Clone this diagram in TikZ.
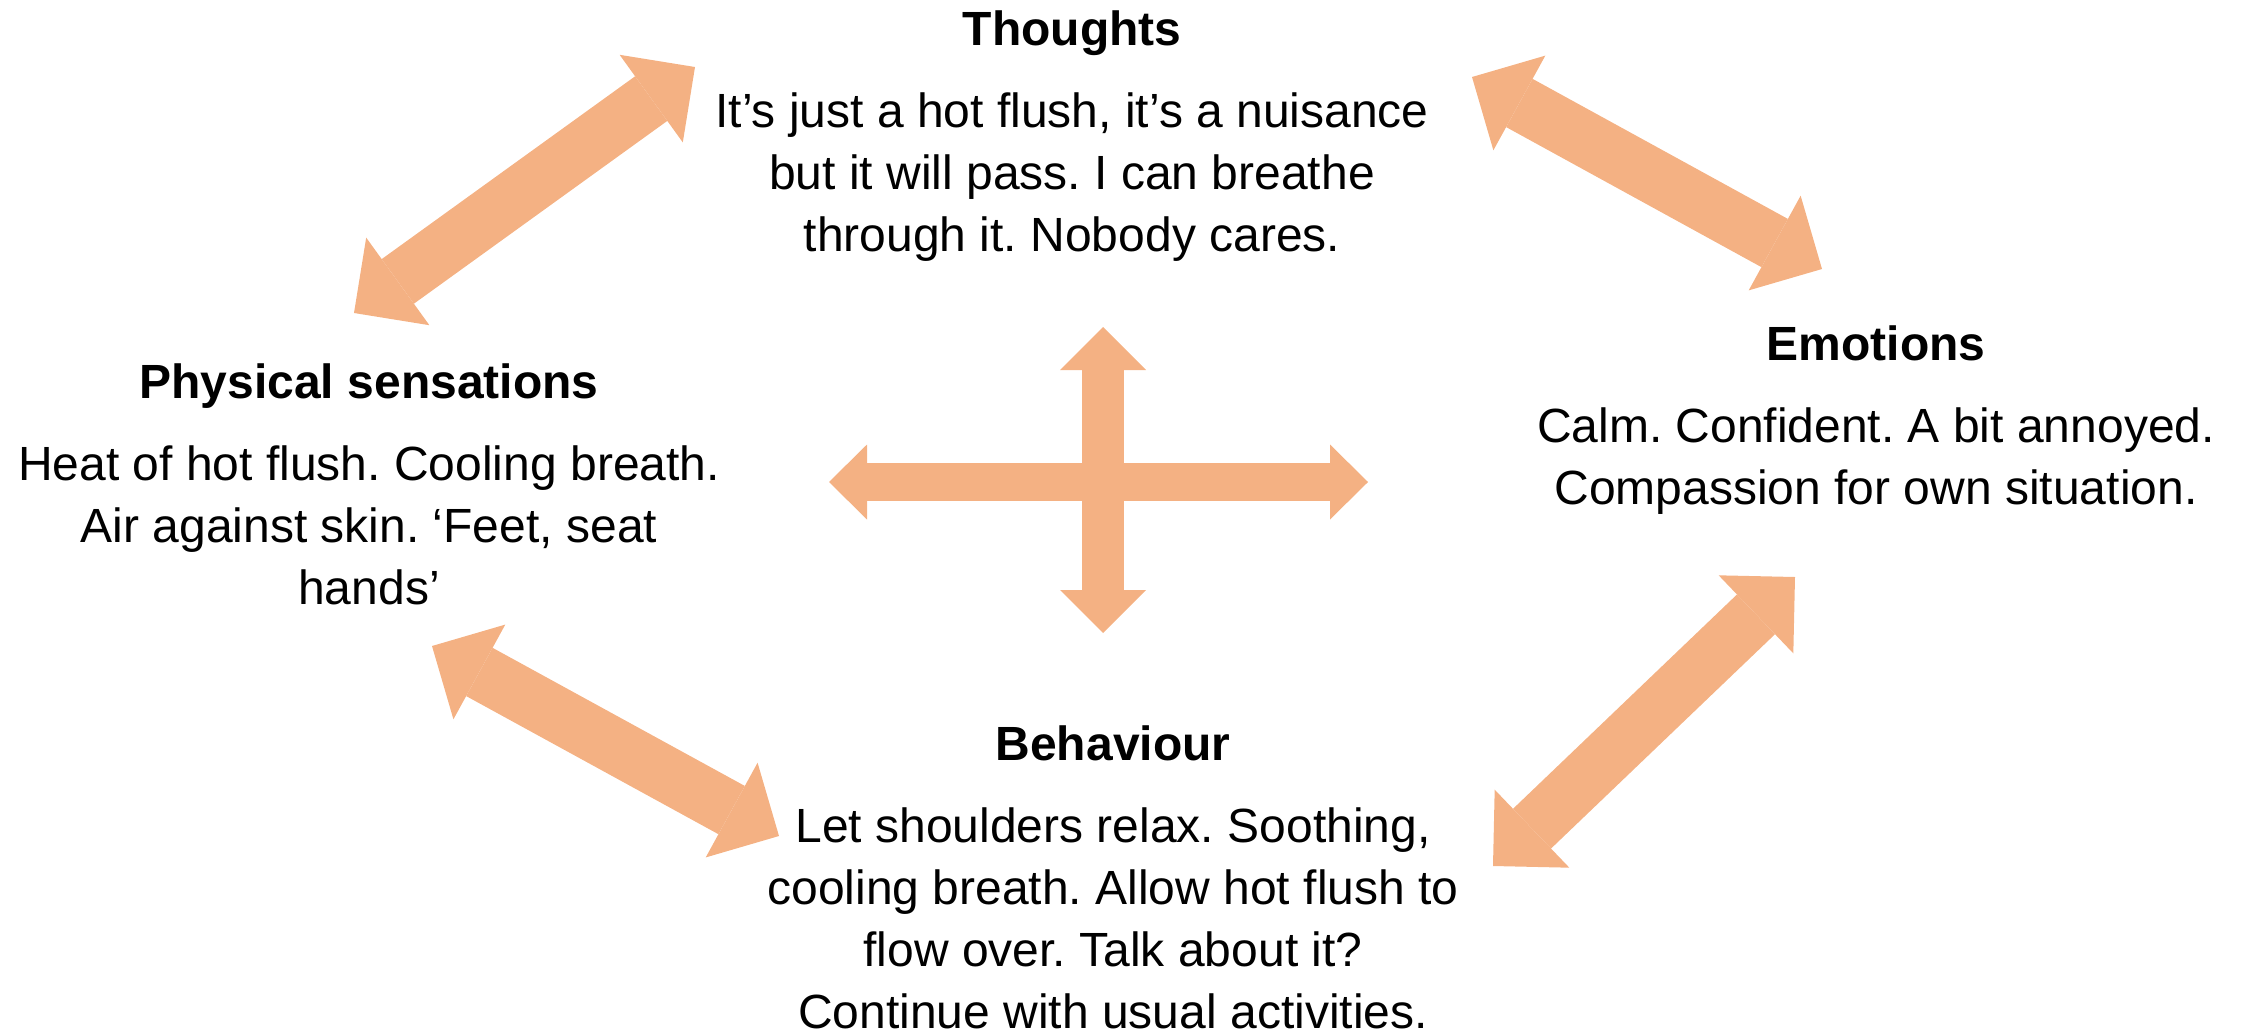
\documentclass[tikz,border=0pt]{standalone}
\usepackage{fontspec}
\setmainfont{Liberation Sans}
\usetikzlibrary{arrows.meta}
\definecolor{arrowfill}{HTML}{F4B183}
\frenchspacing
\begin{document}
\begin{tikzpicture}[x=1pt,y=-1pt,
  lbl/.style={align=center, font=\fontsize{48pt}{62pt}\selectfont\frenchspacing, inner sep=0pt, anchor=base},
  diagarrow/.style={draw=arrowfill, line width=55pt,
    {Triangle[width=108pt,length=54pt,line width=0pt]}-{Triangle[width=108pt,length=54pt,line width=0pt]}},
  vertarrow/.style={draw=arrowfill, line width=42pt,
    {Triangle[width=86pt,length=43pt,line width=0pt]}-{Triangle[width=86pt,length=43pt,line width=0pt]}},
  horzarrow/.style={draw=arrowfill, line width=38pt,
    {Triangle[width=75pt,length=38pt,line width=0pt]}-{Triangle[width=75pt,length=38pt,line width=0pt]}},
]
\useasboundingbox (0,0) rectangle (2244,1034);

% anchor base = baseline of the last line
\node[lbl] (thoughts) at (1072,251) {\textbf{Thoughts}\\[20pt]It’s just a hot flush, it’s a nuisance\\but it will pass. I can breathe\\through it. Nobody cares.};
\node[lbl] (physical) at (369,604) {\textbf{Physical sensations}\\[20pt]Heat of hot flush. Cooling breath.\\Air against skin. ‘Feet, seat\\hands’};
\node[lbl] (emotions) at (1876,504) {\textbf{Emotions}\\[20pt]Calm. Confident. A bit annoyed.\\Compassion for own situation.};
\node[lbl] (behaviour) at (1113,1028) {\textbf{Behaviour}\\[20pt]Let shoulders relax. Soothing,\\cooling breath. Allow hot flush to\\flow over. Talk about it?\\Continue with usual activities.};

\coordinate (a1s) at (354,313);
\coordinate (a1e) at (695,67);
\coordinate (a2s) at (1472,77);
\coordinate (a2e) at (1822,269);
\coordinate (a4s) at (432,646);
\coordinate (a4e) at (779,836);
\coordinate (a5s) at (1493,866);
\coordinate (a5e) at (1795,577);
\coordinate (cv1) at (1103,327);
\coordinate (cv2) at (1103,633);
\coordinate (ch1) at (829,482);
\coordinate (ch2) at (1368,482);

\draw[diagarrow] (a1s) -- (a1e);
\draw[diagarrow] (a2s) -- (a2e);
\draw[diagarrow] (a4s) -- (a4e);
\draw[diagarrow] (a5s) -- (a5e);
\draw[horzarrow] (ch1) -- (ch2);
\draw[vertarrow] (cv1) -- (cv2);
\end{tikzpicture}
\end{document}
